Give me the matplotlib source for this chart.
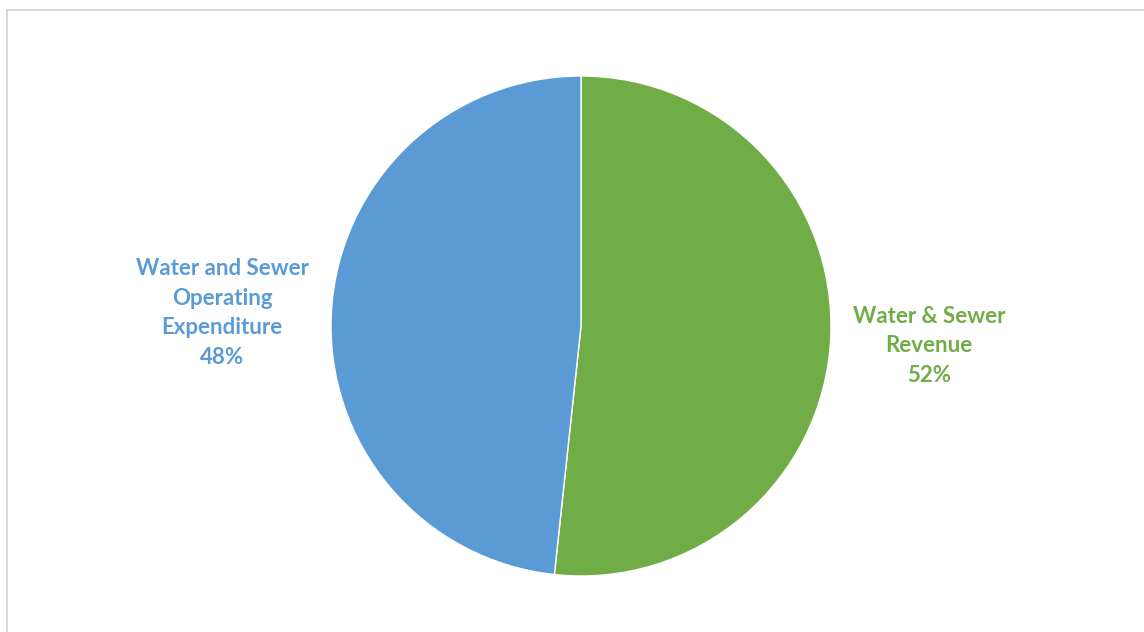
import matplotlib
matplotlib.use('Agg')
import matplotlib.pyplot as plt
from matplotlib.patches import Rectangle

# slices, clockwise from 12 o'clock
labels = ['Water & Sewer\nRevenue', 'Water and Sewer\nOperating\nExpenditure']
values = [51.7, 48.3]
colors = ['#70AD47', '#5B9BD5']

W, H = 1144, 632
fig = plt.figure(figsize=(W/100, H/100), dpi=100)

# chart frame (runs off right/bottom edge)
fig.patches.append(Rectangle((7/W, -0.1), 1.2, 1 - 10/H + 0.1, transform=fig.transFigure,
                             fill=False, ec='#D9D9D9', lw=1.5))

cx, cy, r = 581, 326, 250
ax = fig.add_axes([(cx - r)/W, (H - cy - r)/H, 2*r/W, 2*r/H])
ax.pie(values, colors=colors, startangle=90, counterclock=False,
       wedgeprops=dict(edgecolor='white', linewidth=1))
ax.set_xlim(-1, 1); ax.set_ylim(-1, 1)
ax.set_aspect('equal')
ax.axis('off')

# data labels outside the slices
label_pos = [(929, 346), (222, 313)]
for lab, v, c, (x, y) in zip(labels, values, colors, label_pos):
    fig.text(x/W, 1 - y/H, f'{lab}\n{round(v)}%', ha='center', va='center', color=c,
             fontsize=16, fontweight='bold', family='Lato', linespacing=1.5)

fig.savefig('out.png', dpi=100)
